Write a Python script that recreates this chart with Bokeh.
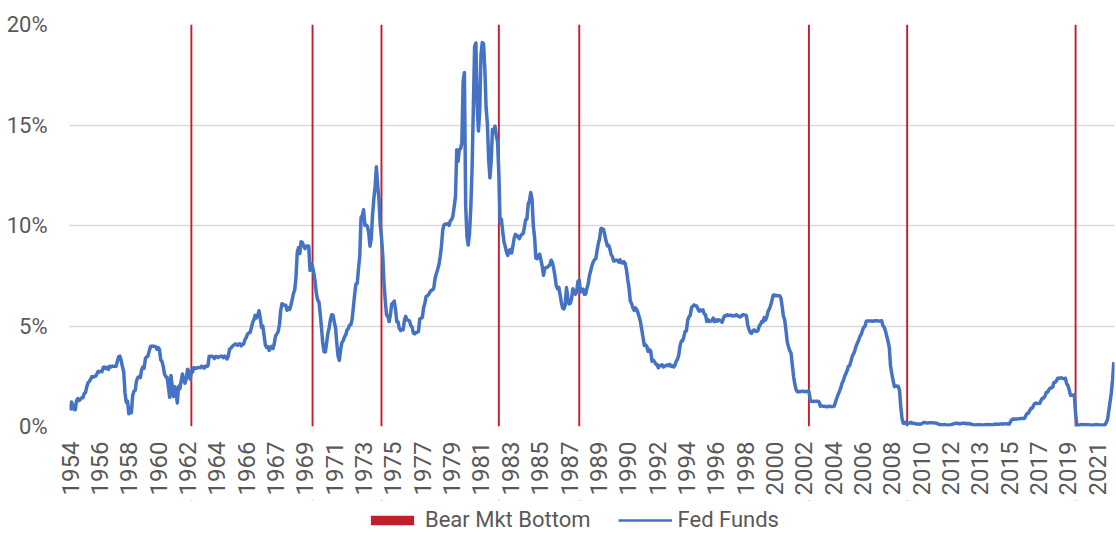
import numpy as np
from bokeh.plotting import figure
from bokeh.layouts import column
from bokeh.models import Range1d, FixedTicker, Legend, LegendItem
from bokeh.embed import file_html
from bokeh.resources import INLINE

# Effective Fed Funds rate (%), monthly, starting July 1954
fed_1950s = [0.80, 1.22, 1.07, 0.85, 0.83, 1.28,
             1.39, 1.29, 1.35, 1.43, 1.43, 1.64, 1.68, 1.96, 2.18, 2.24, 2.35, 2.48,
             2.45, 2.50, 2.50, 2.62, 2.75, 2.71, 2.75, 2.73, 2.95, 2.96, 2.88, 2.94,
             2.84, 3.00, 2.96, 3.00, 3.00, 3.00, 2.99, 3.24, 3.47, 3.50, 3.28, 2.98,
             2.72, 1.67, 1.20, 1.26, 0.63, 0.93, 0.68, 1.53, 1.76, 1.80, 2.27, 2.42,
             2.48, 2.43, 2.80, 2.96, 2.90, 3.39, 3.47, 3.50, 3.76, 3.98, 4.00, 3.99]
fed_1960s = [3.99, 3.97, 3.84, 3.92, 3.85, 3.32, 3.23, 2.98, 2.60, 2.47, 2.44, 1.98,
             1.45, 2.54, 2.02, 1.49, 1.98, 1.73, 1.17, 2.00, 1.88, 2.26, 2.61, 2.33,
             2.15, 2.37, 2.85, 2.78, 2.36, 2.68, 2.71, 2.93, 2.90, 2.90, 2.94, 2.93,
             2.92, 3.00, 2.98, 2.90, 3.00, 2.99, 3.02, 3.49, 3.48, 3.50, 3.48, 3.38,
             3.48, 3.48, 3.43, 3.47, 3.50, 3.50, 3.42, 3.50, 3.45, 3.36, 3.52, 3.85,
             3.90, 3.98, 4.04, 4.09, 4.10, 4.04, 4.09, 4.12, 4.01, 4.08, 4.10, 4.32,
             4.42, 4.60, 4.65, 4.67, 4.90, 5.17, 5.30, 5.53, 5.40, 5.53, 5.76, 5.40,
             4.94, 5.00, 4.53, 4.05, 3.94, 3.98, 3.79, 3.90, 3.99, 3.88, 4.13, 4.51,
             4.61, 4.71, 5.05, 5.76, 6.11, 6.07, 6.02, 6.03, 5.78, 5.91, 5.82, 6.02,
             6.30, 6.61, 6.79, 7.41, 8.67, 8.90, 8.61, 9.19, 9.15, 9.00, 8.85, 8.97]
fed_1970s = [8.98, 8.98, 7.76, 8.10, 7.95, 7.61, 7.21, 6.61, 6.29, 6.20, 5.60, 4.90,
             4.14, 3.72, 3.71, 4.16, 4.63, 4.91, 5.31, 5.56, 5.55, 5.20, 4.91, 4.14,
             3.50, 3.29, 3.83, 4.17, 4.27, 4.46, 4.55, 4.80, 4.87, 5.04, 5.06, 5.33,
             5.94, 6.58, 7.09, 7.12, 7.84, 8.49, 10.40, 10.50, 10.78, 10.01, 10.03, 9.95,
             9.65, 8.97, 9.35, 10.51, 11.31, 11.93, 12.92, 12.01, 11.34, 10.06, 9.45, 8.53,
             7.13, 6.24, 5.54, 5.49, 5.22, 5.55, 6.10, 6.14, 6.24, 5.82, 5.22, 5.20,
             4.87, 4.77, 4.84, 4.82, 5.29, 5.48, 5.31, 5.29, 5.25, 5.02, 4.95, 4.65,
             4.61, 4.68, 4.69, 4.73, 5.35, 5.39, 5.42, 5.90, 6.14, 6.47, 6.51, 6.56,
             6.70, 6.78, 6.79, 6.89, 7.36, 7.60, 7.81, 8.04, 8.45, 8.96, 9.76, 10.03,
             10.07, 10.06, 10.09, 10.01, 10.24, 10.29, 10.47, 10.94, 11.43, 13.77, 13.18, 13.78]
fed_1980s = [13.82, 14.13, 17.19, 17.61, 10.98, 9.47, 9.03, 9.61, 10.87, 12.81, 15.85, 18.90,
             19.08, 15.93, 14.70, 15.72, 18.52, 19.10, 19.04, 17.82, 15.87, 15.08, 13.31, 12.37,
             13.22, 14.78, 14.68, 14.94, 14.45, 14.15, 12.59, 10.12, 10.31, 9.71, 9.20, 8.95,
             8.68, 8.51, 8.77, 8.80, 8.63, 8.98, 9.37, 9.56, 9.45, 9.48, 9.34, 9.47,
             9.56, 9.59, 9.91, 10.29, 10.32, 11.06, 11.23, 11.64, 11.30, 9.99, 9.43, 8.38,
             8.35, 8.50, 8.58, 8.27, 7.97, 7.53, 7.88, 7.90, 7.92, 7.99, 8.05, 8.27,
             8.14, 7.86, 7.48, 6.99, 6.85, 6.92, 6.56, 6.17, 5.89, 5.85, 6.04, 6.91,
             6.43, 6.10, 6.13, 6.37, 6.85, 6.73, 6.58, 6.73, 7.22, 7.29, 6.69, 6.77,
             6.83, 6.58, 6.58, 6.87, 7.09, 7.51, 7.75, 8.01, 8.19, 8.30, 8.35, 8.76,
             9.12, 9.36, 9.85, 9.84, 9.81, 9.53, 9.24, 8.99, 9.02, 8.84, 8.55, 8.45]
fed_1990s = [8.23, 8.24, 8.28, 8.26, 8.18, 8.29, 8.15, 8.13, 8.20, 8.11, 7.81, 7.31,
             6.91, 6.25, 6.12, 5.91, 5.78, 5.90, 5.82, 5.66, 5.45, 5.21, 4.81, 4.43,
             4.03, 4.06, 3.98, 3.73, 3.82, 3.76, 3.25, 3.30, 3.22, 3.10, 3.09, 2.92,
             3.02, 3.03, 3.07, 2.96, 3.00, 3.04, 3.06, 3.03, 3.09, 2.99, 3.02, 2.96,
             3.05, 3.25, 3.34, 3.56, 4.01, 4.25, 4.26, 4.47, 4.73, 4.76, 5.29, 5.45,
             5.53, 5.92, 5.98, 6.05, 6.01, 6.00, 5.85, 5.74, 5.80, 5.76, 5.80, 5.60,
             5.56, 5.22, 5.31, 5.22, 5.24, 5.27, 5.40, 5.22, 5.30, 5.24, 5.31, 5.29,
             5.25, 5.19, 5.39, 5.51, 5.50, 5.56, 5.52, 5.54, 5.54, 5.50, 5.52, 5.50,
             5.56, 5.51, 5.49, 5.45, 5.49, 5.56, 5.54, 5.55, 5.51, 5.07, 4.83, 4.68,
             4.63, 4.76, 4.81, 4.74, 4.74, 4.76, 4.99, 5.07, 5.22, 5.20, 5.42, 5.30]
fed_2000s = [5.45, 5.73, 5.85, 6.02, 6.27, 6.53, 6.54, 6.50, 6.52, 6.51, 6.51, 6.40,
             5.98, 5.49, 5.31, 4.80, 4.21, 3.97, 3.77, 3.65, 3.07, 2.49, 2.09, 1.82,
             1.73, 1.74, 1.73, 1.75, 1.75, 1.75, 1.73, 1.74, 1.75, 1.75, 1.34, 1.24,
             1.24, 1.26, 1.25, 1.26, 1.26, 1.22, 1.01, 1.03, 1.01, 1.01, 1.00, 0.98,
             1.00, 1.01, 1.00, 1.00, 1.00, 1.03, 1.26, 1.43, 1.61, 1.76, 1.93, 2.16,
             2.28, 2.50, 2.63, 2.79, 3.00, 3.04, 3.26, 3.50, 3.62, 3.78, 4.00, 4.16,
             4.29, 4.49, 4.59, 4.79, 4.94, 4.99, 5.24, 5.25, 5.25, 5.25, 5.25, 5.24,
             5.25, 5.26, 5.26, 5.25, 5.25, 5.25, 5.26, 5.02, 4.94, 4.76, 4.49, 4.24,
             3.94, 2.98, 2.61, 2.28, 1.98, 2.00, 2.01, 2.00, 1.81, 0.97, 0.39, 0.16,
             0.15, 0.22, 0.18, 0.15, 0.18, 0.21, 0.16, 0.16, 0.15, 0.12, 0.12, 0.12]
fed_2010s = [0.11, 0.13, 0.16, 0.20, 0.20, 0.18, 0.18, 0.19, 0.19, 0.19, 0.19, 0.18,
             0.17, 0.16, 0.14, 0.10, 0.09, 0.09, 0.07, 0.10, 0.08, 0.07, 0.08, 0.07,
             0.08, 0.10, 0.13, 0.14, 0.16, 0.16, 0.16, 0.13, 0.14, 0.16, 0.16, 0.16,
             0.14, 0.15, 0.14, 0.15, 0.11, 0.09, 0.09, 0.08, 0.08, 0.09, 0.08, 0.09,
             0.07, 0.07, 0.08, 0.09, 0.09, 0.10, 0.09, 0.09, 0.09, 0.09, 0.09, 0.12,
             0.11, 0.11, 0.11, 0.12, 0.12, 0.13, 0.13, 0.14, 0.14, 0.12, 0.12, 0.24,
             0.34, 0.38, 0.36, 0.37, 0.37, 0.38, 0.39, 0.40, 0.40, 0.40, 0.41, 0.54,
             0.65, 0.66, 0.79, 0.90, 0.91, 1.04, 1.15, 1.16, 1.15, 1.15, 1.16, 1.30,
             1.41, 1.42, 1.51, 1.69, 1.70, 1.82, 1.91, 1.91, 1.95, 2.19, 2.20, 2.27,
             2.40, 2.40, 2.41, 2.42, 2.39, 2.38, 2.40, 2.13, 2.04, 1.83, 1.55, 1.55]
fed_2020s = [1.55, 1.58, 0.65, 0.05, 0.05, 0.08, 0.09, 0.10, 0.09, 0.09, 0.09, 0.09,
             0.09, 0.08, 0.07, 0.07, 0.06, 0.08, 0.10, 0.09, 0.08, 0.08, 0.08, 0.08,
             0.08, 0.08, 0.20, 0.33, 0.77, 1.21, 1.68, 2.33, 3.20]

start_year, start_month = 1954, 7
bear_bottoms = ["1962-06", "1970-05", "1974-11", "1982-07", "1987-10", "2002-10", "2009-03", "2020-03"]
bear_height = 20

x_tick_labels = ["1954", "1956", "1958", "1960", "1962", "1964", "1966", "1967", "1969",
                 "1971", "1973", "1975", "1977", "1979", "1981", "1983", "1985", "1987",
                 "1989", "1990", "1992", "1994", "1996", "1998", "2000", "2002", "2004",
                 "2006", "2008", "2010", "2012", "2013", "2015", "2017", "2019", "2021"]
label_every = 23
y_ticks = [0, 5, 10, 15, 20]
y_tick_labels = ["0%", "5%", "10%", "15%", "20%"]
series_names = ["Bear Mkt Bottom", "Fed Funds"]

fed = fed_1950s + fed_1960s + fed_1970s + fed_1980s + fed_1990s + fed_2000s + fed_2010s + fed_2020s
N = len(fed)
idx = list(range(N))

def month_index(s):
    y, m = s.split("-")
    return (int(y) - start_year) * 12 + (int(m) - start_month)

bear_x = [month_index(s) for s in bear_bottoms]
bear_top = [bear_height] * len(bear_x)

FONT = "Roboto"
TXT = "#595959"
RED = "#C0202A"
BLUE = "#4472C4"

# ---- main chart ----
p = figure(width=1116, height=500, output_backend="svg", toolbar_location=None,
           x_range=Range1d(-0.5, N - 0.5), y_range=Range1d(0, 20),
           min_border_left=69, min_border_right=2, min_border_top=24, min_border_bottom=74)
p.outline_line_color = None

p.vbar(x=bear_x, top=bear_top, bottom=0, width=1.5, fill_color=RED, line_color=None)
p.line(idx, fed, line_color=BLUE, line_width=3.5, line_join="round")

ticks_x = [i * label_every for i in range(len(x_tick_labels))]
p.xaxis.ticker = FixedTicker(ticks=ticks_x)
p.xaxis.major_label_overrides = {t: lab for t, lab in zip(ticks_x, x_tick_labels)}
p.xaxis.major_label_orientation = np.pi / 2
p.xaxis.major_label_standoff = 15
p.yaxis.ticker = FixedTicker(ticks=y_ticks)
p.yaxis.major_label_overrides = {t: lab for t, lab in zip(y_ticks, y_tick_labels)}
p.yaxis.major_label_standoff = 22
for ax in (p.xaxis, p.yaxis):
    ax.axis_line_color = None
    ax.major_tick_line_color = None
    ax.minor_tick_line_color = None
    ax.major_tick_in = 0
    ax.major_tick_out = 0
    ax.major_label_text_font = FONT
    ax.major_label_text_color = TXT
p.yaxis.major_label_text_font_size = "22px"
p.xaxis.major_label_text_font_size = "24px"

p.xgrid.visible = False
p.ygrid.ticker = FixedTicker(ticks=y_ticks)
p.ygrid.grid_line_color = "#d9d9d9"
p.ygrid.grid_line_width = 1.5

# ---- legend strip (same series, viewed outside their value range so only the legend shows) ----
lg = figure(width=1116, height=35, output_backend="svg", toolbar_location=None,
            x_axis_location=None, y_axis_location=None,
            x_range=Range1d(-0.5, N - 0.5), y_range=Range1d(-100, -99),
            min_border_left=0, min_border_right=0, min_border_top=0, min_border_bottom=0)
lg.outline_line_color = None
lg.grid.visible = False
r_bar = lg.vbar(x=bear_x, top=bear_top, bottom=0, width=1.5, fill_color=RED, line_color=None)
r_line = lg.line(idx, fed, line_color=BLUE, line_width=2.5)

legend = Legend(items=[LegendItem(label=series_names[0], renderers=[r_bar]),
                       LegendItem(label=series_names[1], renderers=[r_line])],
                orientation="horizontal", location=(296, 3),
                glyph_width=54, glyph_height=12, label_standoff=6, spacing=27,
                padding=0, margin=0, border_line_color=None, background_fill_alpha=0,
                label_text_font=FONT, label_text_font_size="22px", label_text_color=TXT)
lg.add_layout(legend)

layout = column(p, lg, spacing=0)
open("out.html", "w").write(file_html(layout, INLINE))
